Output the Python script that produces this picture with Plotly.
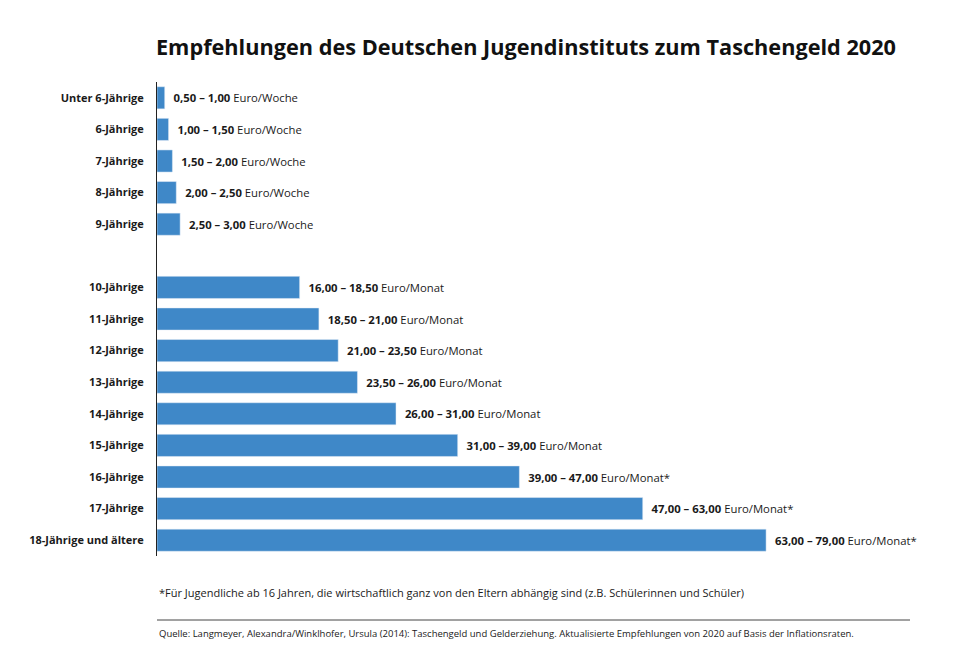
import plotly.graph_objects as go

categories = ["Unter 6-Jährige","6-Jährige","7-Jährige","8-Jährige","9-Jährige"," ",
              "10-Jährige","11-Jährige","12-Jährige","13-Jährige","14-Jährige","15-Jährige",
              "16-Jährige","17-Jährige","18-Jährige und ältere"]
low = [0.5,1.0,1.5,2.0,2.5,None,16,18.5,21,23.5,26,31,39,47,63]
high = [1.0,1.5,2.0,2.5,3.0,None,18.5,21,23.5,26,31,39,47,63,79]
units = ["Euro/Woche"]*5+[""]+["Euro/Monat"]*6+["Euro/Monat*"]*3

def fmt(v):
    return f"{v:.2f}".replace(".", ",")

texts = []
for l, h, u in zip(low, high, units):
    texts.append("" if l is None else f"  <b>{fmt(l)} – {fmt(h)}</b> {u}")

W, H = 954, 655
L, R, T, B = 149, 34, 74, 107
OFF = 8

fig = go.Figure(go.Bar(
    y=categories, x=high, orientation="h", marker_color="#3f88c8",
    text=texts, textposition="outside", cliponaxis=False,
    textfont=dict(size=11.3, color="#1a1a1a"), hoverinfo="skip"))

fig.update_layout(
    width=W, height=H, paper_bgcolor="white", plot_bgcolor="white",
    font=dict(family="Open Sans", color="#1a1a1a"),
    margin=dict(l=L, r=R, t=T, b=B), bargap=0.3, showlegend=False,
    title=dict(text="<b>Empfehlungen des Deutschen Jugendinstituts zum Taschengeld 2020</b>",
               x=(526 - OFF) / W, xanchor="center", y=1 - (47 - OFF) / H, yanchor="middle",
               font=dict(size=21.7, color="#111")),
    xaxis=dict(range=[0, 100], visible=False),
    yaxis=dict(autorange="reversed", showline=True, linecolor="#222", linewidth=1,
               ticks="", tickfont=dict(size=11, color="#1a1a1a", weight="bold"), ticklabelstandoff=10),
)

def py(pix):
    return (H - B - (pix - OFF)) / (H - T - B)
def px(pix):
    return (pix - OFF - L) / (W - L - R)

fig.add_annotation(xref="paper", yref="paper", x=0, xanchor="left", y=py(592), yanchor="middle",
                   text="*Für Jugendliche ab 16 Jahren, die wirtschaftlich ganz von den Eltern abhängig sind (z.B. Schülerinnen und Schüler)",
                   showarrow=False, font=dict(size=11))
fig.add_annotation(xref="paper", yref="paper", x=0, xanchor="left", y=py(633), yanchor="middle",
                   text="Quelle: Langmeyer, Alexandra/Winklhofer, Ursula (2014): Taschengeld und Gelderziehung. Aktualisierte Empfehlungen von 2020 auf Basis der Inflationsraten.",
                   showarrow=False, font=dict(size=9.5))
fig.add_shape(type="line", xref="paper", yref="paper", x0=0, x1=px(910), y0=py(620), y1=py(620),
              line=dict(color="#444", width=1))
fig.write_html("out.html")
